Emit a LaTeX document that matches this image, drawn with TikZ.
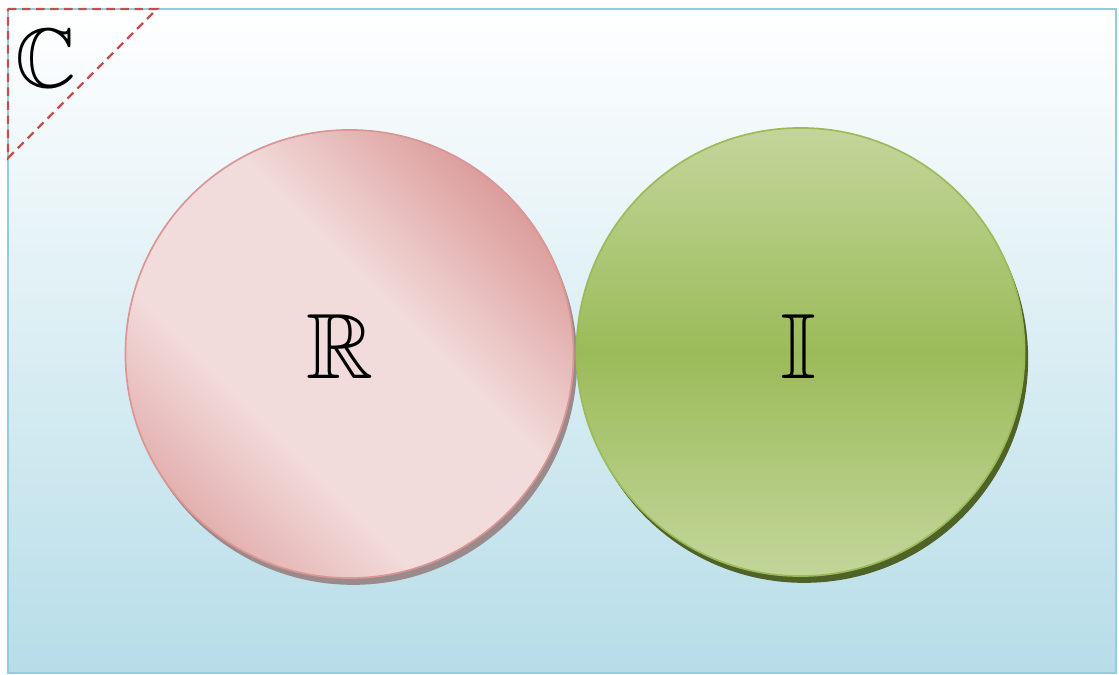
\documentclass[tikz,border=0pt]{standalone}
\usepackage{fix-cm}
\usepackage{amsmath, amssymb}
\usetikzlibrary{shadows}
\definecolor{skyEdge}{HTML}{93CDDD}
\definecolor{skyBottom}{HTML}{B7DDE8}
\definecolor{cornerRed}{HTML}{C0504D}
\definecolor{realDark}{HTML}{D99694}
\definecolor{realLight}{HTML}{F2DCDB}
\definecolor{realEdge}{HTML}{D99694}
\definecolor{realShadow}{HTML}{9B8A8C}
\definecolor{imagLight}{HTML}{C3D69B}
\definecolor{imagMid}{HTML}{9BBB59}
\definecolor{imagShadow}{HTML}{4F6228}
\pgfdeclareverticalshading{pinkband}{100bp}{color(0bp)=(realDark); color(17bp)=(realDark); color(38bp)=(realLight); color(57bp)=(realLight); color(77bp)=(realDark); color(100bp)=(realDark)}
\tikzstyle{universe}=[draw=skyEdge, line width=1.1pt, top color=white, bottom color=skyBottom]
\tikzstyle{corner}=[draw=cornerRed, line width=1.6pt, dash pattern=on 6pt off 4pt]
\tikzstyle{setlabel}=[font=\fontsize{66}{70}\selectfont, inner sep=0pt]
\tikzstyle{realset}=[circle, minimum size=11.2cm, draw=realEdge, line width=1.2pt, shading=pinkband, shading angle=-45,
	drop shadow={shadow xshift=0.09cm, shadow yshift=-0.17cm, fill=realShadow, opacity=1}]
\tikzstyle{imagset}=[circle, minimum size=11.2cm, draw=imagMid, line width=1.2pt, top color=imagLight, bottom color=imagLight, middle color=imagMid,
	drop shadow={shadow xshift=0.09cm, shadow yshift=-0.17cm, fill=imagShadow, opacity=1}]

\begin{document}
\begin{tikzpicture}[x=0.025cm, y=-0.025cm]
	\useasboundingbox (0,0) rectangle (1119,675);
	% the complex plane as a box
	\path[universe] (8,9) rectangle (1116,673);
	\draw[corner] (8,9) -- (157,9) -- (8,158) -- cycle;
	\node[setlabel, font=\fontsize{60}{64}\selectfont] (complex) at (46,58) {$\mathbb{C}$};

	% the two sets
	\node[realset] (real) at (349.5,354) {};
	\node[imagset] (imag) at (800.5,352) {};
	\node[setlabel] (realname) at (340,347) {$\mathbb{R}$};
	\node[setlabel] (imagname) at (799,347) {$\mathbb{I}$};
\end{tikzpicture}
\end{document}
